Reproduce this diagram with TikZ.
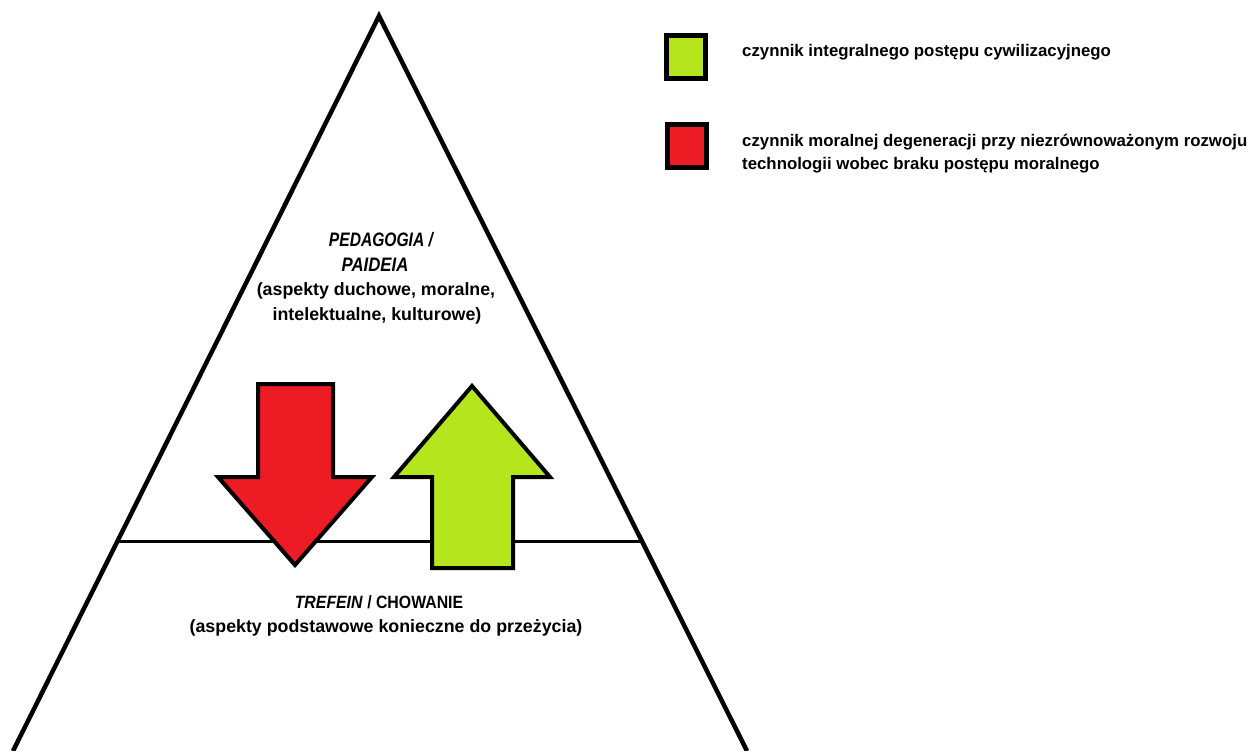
\documentclass[tikz,border=0pt]{standalone}
\usepackage{fontspec}
\usepackage{graphicx}
\setmainfont{Liberation Sans}
\usetikzlibrary{calc}
\definecolor{paintred}{HTML}{ED1C24}
\definecolor{paintlime}{HTML}{B5E61D}
\begin{document}
\begin{tikzpicture}[x=1pt,y=-1pt,
  txt/.style={font=\bfseries\fontsize{17.8}{21}\selectfont, inner sep=0pt, anchor=base},
  captxt/.style={font=\bfseries\itshape\fontsize{19.5}{23}\selectfont, inner sep=0pt, anchor=base},
  ltxt/.style={font=\bfseries\fontsize{16.8}{20}\selectfont, inner sep=0pt, anchor=base west},
  legendbox/.style={draw=black, line width=5pt, minimum width=39pt, minimum height=43pt, inner sep=0pt},
  bigarrow/.style={draw=black, line width=4pt, line join=miter}]
\useasboundingbox (0,0) rectangle (1250,751);
\fill[white] (0,0) rectangle (1250,751);

% pyramid outline
\coordinate (apex) at (379,16);
\coordinate (bl) at (13,751);
\coordinate (br) at (747,751);
\coordinate (ml) at ($(apex)!0.7156!(bl)$);
\coordinate (mr) at ($(apex)!0.7156!(br)$);
\begin{scope}
  \clip (0,0) rectangle (1250,751);
  \draw[line width=4.5pt, line join=miter] (bl) -- (apex) -- (br);
\end{scope}
\draw[line width=3pt] (ml) -- (mr);

% arrows
\draw[bigarrow, fill=paintred]
  (258,384) -- (333,384) -- (333,477) -- (372,477) -- (295,565)
  -- (218,477) -- (258,477) -- cycle;
\draw[bigarrow, fill=paintlime]
  (472,386) -- (550,477) -- (513,477) -- (513,568) -- (432,568)
  -- (432,477) -- (394,477) -- cycle;

% upper level
\node[captxt] (ped) at (381,247) {\scalebox{0.80}[1]{PEDAGOGIA /}};
\node[captxt] (pai) at (375,272) {\scalebox{0.86}[1]{PAIDEIA}};
\node[txt] (asp1) at (376,296) {(aspekty duchowe, moralne,};
\node[txt] (asp2) at (377,320) {intelektualne, kulturowe)};

% lower level
\node[txt] (tre) at (379,608) {\scalebox{0.89}[1]{\textit{TREFEIN} / CHOWANIE}};
\node[txt] (asp3) at (386,632) {(aspekty podstawowe konieczne do przeżycia)};

% legend
\node[legendbox, fill=paintlime] (lg) at (686,57) {};
\node[legendbox, fill=paintred] (lr) at (687,146) {};
\node[ltxt] (lgt) at (742,57) {czynnik integralnego postępu cywilizacyjnego};
\node[ltxt] (lrt1) at (742,147) {czynnik moralnej degeneracji przy niezrównoważonym rozwoju};
\node[ltxt] (lrt2) at (742,170) {technologii wobec braku postępu moralnego};
\end{tikzpicture}
\end{document}
